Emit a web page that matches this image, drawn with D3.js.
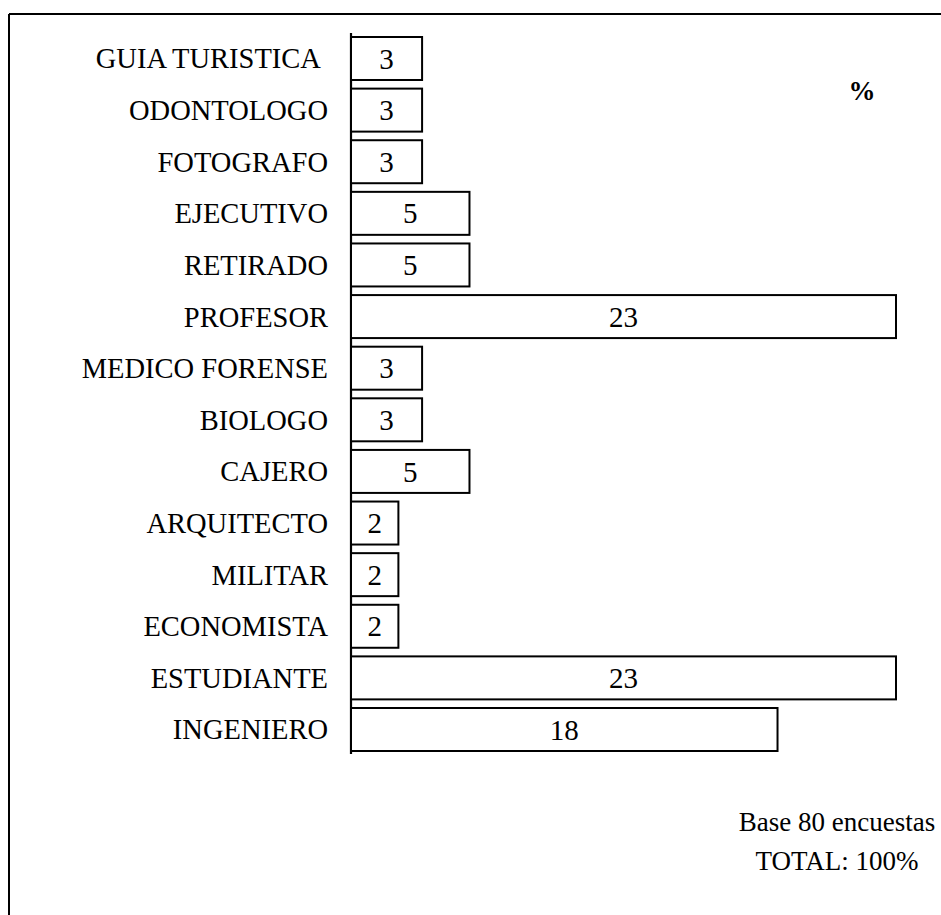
<!DOCTYPE html>
<html>
<head>
<meta charset="utf-8">
<script src="https://cdn.jsdelivr.net/npm/d3@7"></script>
<style>
  html, body { margin: 0; padding: 0; background: #fff; }
  svg { display: block; }
  text { font-family: "Liberation Serif", "Times New Roman", serif; fill: #000; }
</style>
</head>
<body>
<svg id="chart" width="941" height="915"></svg>
<script>
const categories = ["GUIA TURISTICA\u00A0", "ODONTOLOGO", "FOTOGRAFO", "EJECUTIVO", "RETIRADO", "PROFESOR",
  "MEDICO FORENSE", "BIOLOGO", "CAJERO", "ARQUITECTO", "MILITAR", "ECONOMISTA", "ESTUDIANTE", "INGENIERO"];
const values = [3, 3, 3, 5, 5, 23, 3, 3, 5, 2, 2, 2, 23, 18];
const unitLabel = "%";
const noteLines = ["Base 80 encuestas", "TOTAL: 100%"];

const serif = '"Liberation Serif", "Times New Roman", serif';
const svg = d3.select("#chart");
const data = categories.map((c, i) => ({ c, v: values[i] }));

// frame (top and left edges)
svg.append("line").attr("x1", 9).attr("y1", 14).attr("x2", 941).attr("y2", 14)
  .attr("stroke", "#000").attr("stroke-width", 2);
svg.append("line").attr("x1", 9).attr("y1", 14).attr("x2", 9).attr("y2", 915)
  .attr("stroke", "#000").attr("stroke-width", 2);

const x = d3.scaleLinear().domain([0, 23]).range([351, 896]);
const y = d3.scaleBand().domain(categories).range([37, 751]).paddingInner(0.167).paddingOuter(0);

// category labels via axis
const axis = d3.axisLeft(y).tickSize(0).tickPadding(23);
const ag = svg.append("g").attr("transform", `translate(${x(0)},0)`).call(axis);
ag.select(".domain").remove();
ag.selectAll("text")
  .style("font-family", serif)
  .style("font-size", "28.5px")
  .attr("dy", "0.35em");

// vertical axis line
svg.append("line").attr("x1", x(0)).attr("x2", x(0)).attr("y1", 33).attr("y2", 754)
  .attr("stroke", "#000").attr("stroke-width", 2.2);

// bars
svg.append("g").selectAll("rect").data(data).join("rect")
  .attr("x", x(0))
  .attr("y", d => y(d.c))
  .attr("width", d => x(d.v) - x(0))
  .attr("height", y.bandwidth())
  .attr("fill", "#fff")
  .attr("stroke", "#000")
  .attr("stroke-width", 2);

// value labels
svg.append("g").selectAll("text").data(data).join("text")
  .attr("x", d => (x(0) + x(d.v)) / 2)
  .attr("y", d => y(d.c) + y.bandwidth() / 2)
  .attr("dy", "0.35em")
  .attr("text-anchor", "middle")
  .style("font-family", serif)
  .style("font-size", "29px")
  .text(d => d.v);

// unit
svg.append("text").attr("x", 862).attr("y", 100).attr("text-anchor", "middle")
  .style("font-family", serif)
  .style("font-size", "27px").style("font-weight", "bold").text(unitLabel);

// note
svg.append("g").selectAll("text").data(noteLines).join("text")
  .attr("x", 837)
  .attr("y", (d, i) => 831 + i * 39)
  .attr("text-anchor", "middle")
  .style("font-family", serif)
  .style("font-size", "27px")
  .text(d => d);
</script>
</body>
</html>
